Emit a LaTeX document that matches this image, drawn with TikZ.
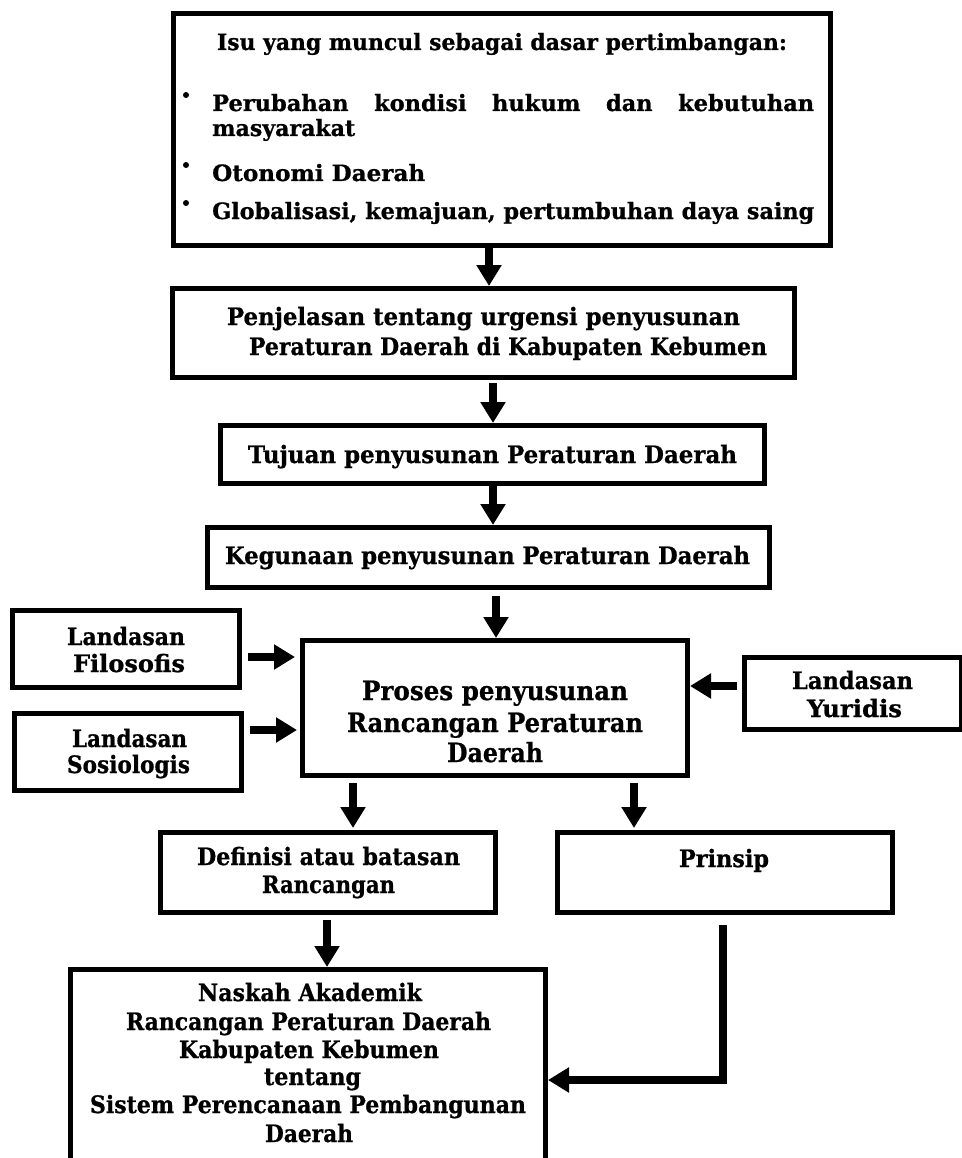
\documentclass[tikz,border=0pt]{standalone}
\usepackage{fontspec}
\setmainfont{DejaVu Serif}[BoldFeatures={FakeBold=0.8}]
\usepackage{graphicx}
\usetikzlibrary{arrows.meta}
\newcommand\fitw[2]{\resizebox{#1}{\height}{#2}}
\tikzset{
  box/.style={draw=black, line width=5pt, inner sep=0pt, fill=white},
  arr/.style={draw=black, line width=8pt, -{Triangle[length=21pt,width=24pt]}},
  txt/.style={inner sep=0pt, anchor=base, font=\bfseries\fontsize{24}{28}\selectfont},
  txts/.style={txt, font=\bfseries\fontsize{22.5}{26}\selectfont},
  txtl/.style={txt, font=\bfseries\fontsize{26.5}{30}\selectfont},
  txtw/.style={txts, anchor=base west},
}
\begin{document}
\begin{tikzpicture}[x=1pt,y=-1pt]
\useasboundingbox (0,0) rectangle (961,1158);
\fill[white] (0,0) rectangle (961,1158);
% boxes
\node[box, minimum width=657pt, minimum height=232pt] (B1) at (502,129.5) {};
\node[box, minimum width=622pt, minimum height=89pt] (B2) at (483.5,333) {};
\node[box, minimum width=544pt, minimum height=58pt] (B3) at (492.5,454.5) {};
\node[box, minimum width=562pt, minimum height=60pt] (B4) at (488.5,557.5) {};
\node[box, minimum width=385pt, minimum height=135pt] (B5) at (495,708) {};
\node[box, minimum width=227pt, minimum height=77pt] (F) at (126,649) {};
\node[box, minimum width=227pt, minimum height=77pt] (S) at (128,752) {};
\node[box, minimum width=217pt, minimum height=72pt] (Y) at (853,693.5) {};
\node[box, minimum width=335pt, minimum height=80pt] (D) at (328,872.5) {};
\node[box, minimum width=335pt, minimum height=80pt] (P) at (725,872.5) {};
\node[box, minimum width=475pt, minimum height=228pt] (N) at (308,1083.5) {};
% box 1 text
\node[txts] (t1a) at (502,50) {\fitw{570pt}{Isu yang muncul sebagai dasar pertimbangan:}};
\node[txtw] (t1b) at (212,111) {\makebox[602pt][s]{Perubahan kondisi hukum dan kebutuhan}};
\node[txtw] (t1c) at (212,136) {\fitw{143pt}{masyarakat}};
\node[txtw] (t1d) at (212,181) {\fitw{213pt}{Otonomi Daerah}};
\node[txtw] (t1e) at (212,219) {\fitw{602pt}{Globalisasi, kemajuan, pertumbuhan daya saing}};
\fill (186,95) circle (3pt);
\fill (186,165) circle (3pt);
\fill (186,203) circle (3pt);
% box 2-4 text
\node[txt] (t2a) at (483.5,325) {\fitw{513pt}{Penjelasan tentang urgensi penyusunan}};
\node[txt] (t2b) at (508,355) {\fitw{518pt}{Peraturan Daerah di Kabupaten Kebumen}};
\node[txt] (t3) at (492.5,463) {\fitw{489pt}{Tujuan penyusunan Peraturan Daerah}};
\node[txt] (t4) at (487.5,564) {\fitw{525pt}{Kegunaan penyusunan Peraturan Daerah}};
% box 5 text
\node[txtl] (t5a) at (495,700) {\fitw{266pt}{Proses penyusunan}};
\node[txtl] (t5b) at (495,732) {\fitw{296pt}{Rancangan Peraturan}};
\node[txtl] (t5c) at (495,762) {\fitw{96pt}{Daerah}};
% landasan
\node[txt] (tfa) at (126,645) {\fitw{118pt}{Landasan}};
\node[txt] (tfb) at (129,672) {\fitw{112pt}{Filosofis}};
\node[txt] (tsa) at (129.5,747) {\fitw{115pt}{Landasan}};
\node[txt] (tsb) at (128.5,773) {\fitw{123pt}{Sosiologis}};
\node[txt] (tya) at (852.5,689) {\fitw{121pt}{Landasan}};
\node[txt] (tyb) at (854.5,717) {\fitw{95pt}{Yuridis}};
% definisi, prinsip
\node[txt] (tda) at (328.5,865) {\fitw{263pt}{Definisi atau batasan}};
\node[txt] (tdb) at (328.5,893) {\fitw{133pt}{Rancangan}};
\node[txt] (tp) at (724,867) {\fitw{90pt}{Prinsip}};
% naskah
\node[txt] (tna) at (310,1001) {\fitw{224pt}{Naskah Akademik}};
\node[txt] (tnb) at (308.5,1030) {\fitw{365pt}{Rancangan Peraturan Daerah}};
\node[txt] (tnc) at (309,1058) {\fitw{260pt}{Kabupaten Kebumen}};
\node[txt] (tnd) at (312.5,1085) {\fitw{97pt}{tentang}};
\node[txt] (tne) at (308,1113) {\fitw{436pt}{Sistem Perencanaan Pembangunan}};
\node[txt] (tnf) at (309,1142) {\fitw{88pt}{Daerah}};
% connectors
\draw[arr] ([xshift=-13pt]B1.south) -- ([xshift=-13pt]B1.south |- B2.north);
\draw[arr, shorten <=3pt] ([xshift=9.5pt]B2.south) -- ([xshift=9.5pt]B2.south |- B3.north);
\draw[arr] ([xshift=0.5pt]B3.south) -- ([xshift=0.5pt]B3.south |- B4.north);
\draw[arr, shorten <=6pt] ([xshift=7.5pt]B4.south) -- ([xshift=7.5pt]B4.south |- B5.north);
\draw[arr, shorten <=6pt, shorten >=5pt] ([yshift=-8pt]F.east) -- ([yshift=-8pt]F.east -| B5.west);
\draw[arr, shorten <=6pt, shorten >=3pt] ([yshift=22pt]S.east) -- ([yshift=22pt]S.east -| B5.west);
\draw[arr, shorten <=5pt] ([yshift=7.5pt]Y.west) -- ([yshift=7.5pt]Y.west -| B5.east);
\draw[arr, shorten <=5pt, shorten >=2pt] ([xshift=25pt]D.north |- B5.south) -- ([xshift=25pt]D.north);
\draw[arr, shorten <=5pt, shorten >=2pt] ([xshift=-91pt]P.north |- B5.south) -- ([xshift=-91pt]P.north);
\draw[arr, shorten <=5pt] ([xshift=-1pt]D.south) -- ([xshift=-1pt]D.south |- N.north);
\draw[arr, shorten <=10pt] ([xshift=-2pt]P.south) |- ([yshift=3.5pt]N.east);
\end{tikzpicture}
\end{document}
